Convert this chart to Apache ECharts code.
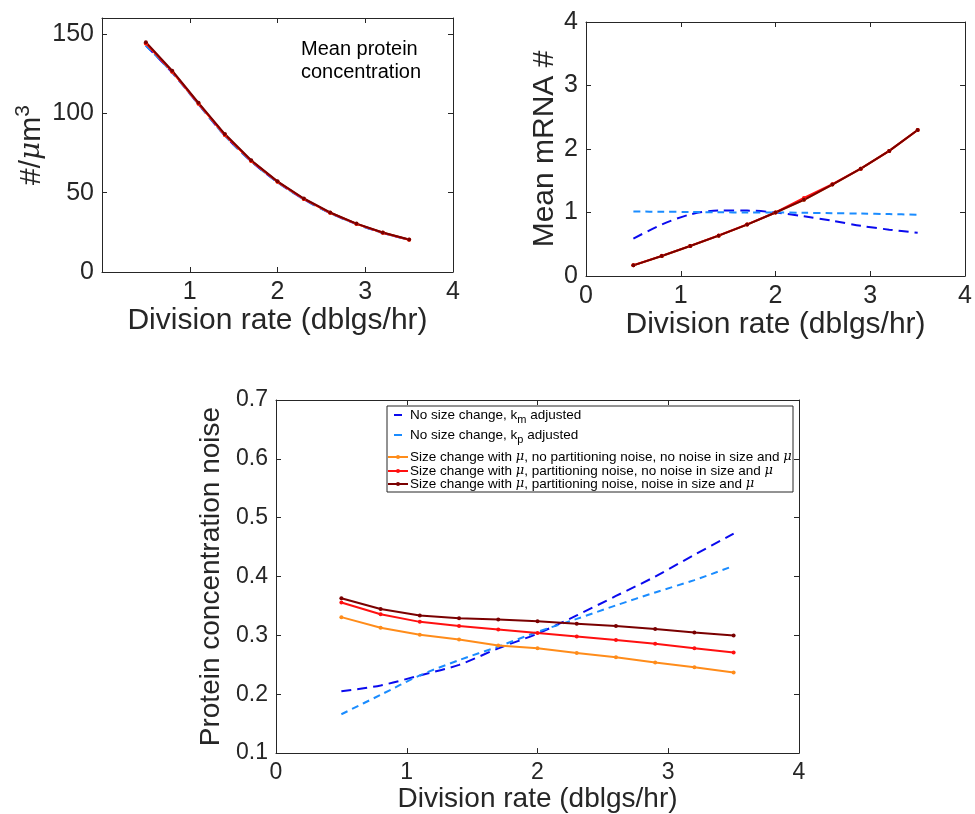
<!DOCTYPE html>
<html>
<head>
<meta charset="utf-8">
<script src="https://cdn.jsdelivr.net/npm/echarts@6/dist/echarts.min.js"></script>
<style>
  html, body { margin: 0; padding: 0; background: #fff; }
  #chart { width: 975px; height: 814px; }
</style>
</head>
<body>
<div id="chart"></div>
<script>
// division rates (dblgs/hr)
var rates = [0.5, 0.8, 1.1, 1.4, 1.7, 2.0, 2.3, 2.6, 2.9, 3.2, 3.5];

// mean protein concentration (#/um^3)
var protKm      = [142.6, 125.6, 105.6, 85.9, 69.7, 56.6, 45.8, 37.1, 30.2, 24.6, 20.3];
var protKp      = [142.6, 125.6, 105.6, 85.9, 69.7, 56.6, 45.8, 37.1, 30.2, 24.6, 20.3];
var protOrange  = [144.0, 126.2, 106.0, 86.3, 70.0, 56.8, 46.0, 37.3, 30.3, 24.7, 20.3];
var protRed     = [144.0, 126.2, 106.0, 86.3, 70.0, 56.8, 46.0, 37.3, 30.3, 24.7, 20.3];
var protDarkRed = [144.8, 126.8, 106.6, 86.9, 70.4, 57.1, 46.3, 37.5, 30.5, 24.9, 20.5];

// mean mRNA number
var mrnaKm      = [0.59, 0.81, 0.97, 1.03, 1.03, 1.00, 0.94, 0.87, 0.79, 0.73, 0.68];
var mrnaKp      = [1.015, 1.012, 1.008, 1.004, 1.0, 1.0, 0.995, 0.99, 0.983, 0.975, 0.965];
var mrnaOrange  = [0.168, 0.315, 0.472, 0.635, 0.81, 1.0, 1.20, 1.44, 1.69, 1.97, 2.30];
var mrnaRed     = [0.170, 0.317, 0.474, 0.637, 0.812, 1.0, 1.23, 1.445, 1.69, 1.97, 2.30];
var mrnaDarkRed = [0.168, 0.315, 0.472, 0.635, 0.81, 1.0, 1.20, 1.44, 1.69, 1.97, 2.30];

// protein concentration noise
var noiseKm      = [0.205, 0.215, 0.232, 0.250, 0.278, 0.303, 0.334, 0.367, 0.400, 0.437, 0.473];
var noiseKp      = [0.166, 0.199, 0.232, 0.258, 0.281, 0.306, 0.328, 0.351, 0.373, 0.394, 0.418];
var noiseOrange  = [0.331, 0.313, 0.301, 0.293, 0.283, 0.278, 0.270, 0.263, 0.254, 0.246, 0.237];
var noiseRed     = [0.356, 0.336, 0.323, 0.316, 0.310, 0.304, 0.298, 0.292, 0.286, 0.278, 0.271];
var noiseDarkRed = [0.363, 0.345, 0.334, 0.329, 0.327, 0.324, 0.320, 0.316, 0.311, 0.305, 0.300];

var seriesNames = [
  'No size change, km adjusted',
  'No size change, kp adjusted',
  'Size change with mu, no partitioning noise, no noise in size and mu',
  'Size change with mu, partitioning noise, no noise in size and mu',
  'Size change with mu, partitioning noise, noise in size and mu'
];
var legendLabels = [
  'No size change, k{sub|m} adjusted',
  'No size change, k{sub|p} adjusted',
  'Size change with {mu|μ}, no partitioning noise, no noise in size and {mu|μ}',
  'Size change with {mu|μ}, partitioning noise, no noise in size and {mu|μ}',
  'Size change with {mu|μ}, partitioning noise, noise in size and {mu|μ}'
];

var FONT = 'Liberation Sans, Arial, Helvetica, sans-serif';
var AX = '#262626';
var colors = ['#0a0aee', '#1a8cff', '#ff8c1a', '#ff1010', '#7a0000'];
var dashes = [[10, 6], [7, 5], null, null, null];

function pairs(vals) {
  return rates.map(function (r, i) { return [r, vals[i]]; });
}

function xAxis(grid, pos, size, nameSize, gap, showMin) {
  var main = pos === 'bottom';
  return {
    type: 'value', gridIndex: grid, position: pos, min: 0, max: 4, interval: 1,
    name: main ? 'Division rate (dblgs/hr)' : '', nameLocation: 'middle', nameGap: gap,
    nameTextStyle: { fontFamily: FONT, fontSize: nameSize, color: AX },
    axisLine: { show: true, onZero: false, lineStyle: { color: AX, width: 1 } },
    axisTick: { show: true, inside: true, length: 5, lineStyle: { color: AX } },
    axisLabel: { show: main, showMinLabel: showMin, fontFamily: FONT, fontSize: size, color: AX, margin: 8 },
    splitLine: { show: false }
  };
}

function yAxis(grid, min, max, interval, pos, size, nameSize, name, gap, rich) {
  var main = pos === 'left';
  return {
    type: 'value', gridIndex: grid, position: pos, min: min, max: max, interval: interval,
    name: main ? name : '', nameLocation: 'middle', nameGap: gap,
    nameTextStyle: { fontFamily: FONT, fontSize: nameSize, color: AX, rich: rich },
    axisLine: { show: true, onZero: false, lineStyle: { color: AX, width: 1 } },
    axisTick: { show: true, inside: true, length: 5, lineStyle: { color: AX } },
    axisLabel: {
      show: main, showMaxLabel: max % interval === 0 || interval < 1, fontFamily: FONT, fontSize: size, color: AX, margin: 8,
      formatter: function (v) { return interval < 1 ? v.toFixed(1) : String(Math.round(v)); }
    },
    splitLine: { show: false }
  };
}

var supRich = {
  a: { fontFamily: FONT, fontSize: 30, color: AX },
  i: { fontFamily: 'DejaVu Serif', fontStyle: 'italic', fontSize: 28, color: AX },
  sup: { fontFamily: FONT, fontSize: 21, color: AX, verticalAlign: 'top', padding: [0, 0, 16, 0] }
};

var xAxes = [
  xAxis(0, 'bottom', 25, 30, 32, false), xAxis(0, 'top', 25, 30, 0, false),
  xAxis(1, 'bottom', 25, 30, 30, true), xAxis(1, 'top', 25, 30, 0, true),
  xAxis(2, 'bottom', 23, 28, 30, true), xAxis(2, 'top', 23, 28, 0, true)
];
var yAxes = [
  yAxis(0, 0, 160, 50, 'left', 25, 30, '{a|#/}{i|μ}{a|m}{sup|3}', 52, supRich),
  yAxis(0, 0, 160, 50, 'right', 25, 30, '', 0),
  yAxis(1, 0, 4, 1, 'left', 25, 30, 'Mean mRNA #', 25),
  yAxis(1, 0, 4, 1, 'right', 25, 30, '', 0),
  yAxis(2, 0.1, 0.7, 0.1, 'left', 23, 28, 'Protein concentration noise', 45),
  yAxis(2, 0.1, 0.7, 0.1, 'right', 23, 28, '', 0)
];

var datasets = [
  [protKm, protKp, protOrange, protRed, protDarkRed],
  [mrnaKm, mrnaKp, mrnaOrange, mrnaRed, mrnaDarkRed],
  [noiseKm, noiseKp, noiseOrange, noiseRed, noiseDarkRed]
];

var series = [];
datasets.forEach(function (group, g) {
  group.forEach(function (vals, k) {
    var dashed = dashes[k] !== null;
    series.push({
      type: 'line', name: seriesNames[k], data: pairs(vals),
      xAxisIndex: g * 2, yAxisIndex: g * 2,
      symbol: dashed ? 'none' : 'circle', symbolSize: 4,
      smooth: dashed ? 0.3 : false,
      lineStyle: { color: colors[k], width: 2, type: dashed ? dashes[k] : 'solid' },
      itemStyle: { color: colors[k] },
      silent: true, animation: false
    });
  });
});

var legendTops = [408, 428, 450, 464, 477];
var legends = seriesNames.map(function (n, k) {
  var dashed = dashes[k] !== null;
  return {
    data: [n],
    left: 387, top: legendTops[k], orient: 'vertical',
    itemWidth: 20, itemHeight: 5, itemGap: 0, padding: 0,
    selectedMode: false,
    itemStyle: dashed ? { opacity: 0 } : {},
    lineStyle: dashed ? { type: [8, 40], dashOffset: 42, width: 2 } : { width: 2 },
    formatter: function () { return legendLabels[k]; },
    textStyle: {
      fontFamily: FONT, fontSize: 13.5, color: '#000', padding: [0, 0, 0, -3],
      rich: {
        sub: { fontFamily: FONT, fontSize: 11, color: '#000', padding: [9, 0, 0, 0] },
        mu: { fontFamily: 'DejaVu Serif', fontStyle: 'italic', fontSize: 13, color: '#000' }
      }
    }
  };
});

var option = {
  backgroundColor: '#fff',
  animation: false,
  grid: [
    { left: 102, top: 18, width: 351, height: 254 },
    { left: 586, top: 22, width: 381, height: 254 },
    { left: 276, top: 400, width: 523, height: 354 }
  ],
  xAxis: xAxes,
  yAxis: yAxes,
  legend: legends,
  graphic: [
    { type: 'rect', shape: { x: 387, y: 406, width: 406, height: 86 },
      style: { fill: '#fff', stroke: '#262626', lineWidth: 1 }, z: 1 },
    { type: 'text', left: 301, top: 38,
      style: { text: 'Mean protein\nconcentration', fontFamily: FONT, fontSize: 20, lineHeight: 23, fill: '#000', align: 'center' } }
  ],
  series: series
};

var chart = echarts.init(document.getElementById('chart'), null, { renderer: 'canvas' });
chart.setOption(option);
</script>
</body>
</html>
